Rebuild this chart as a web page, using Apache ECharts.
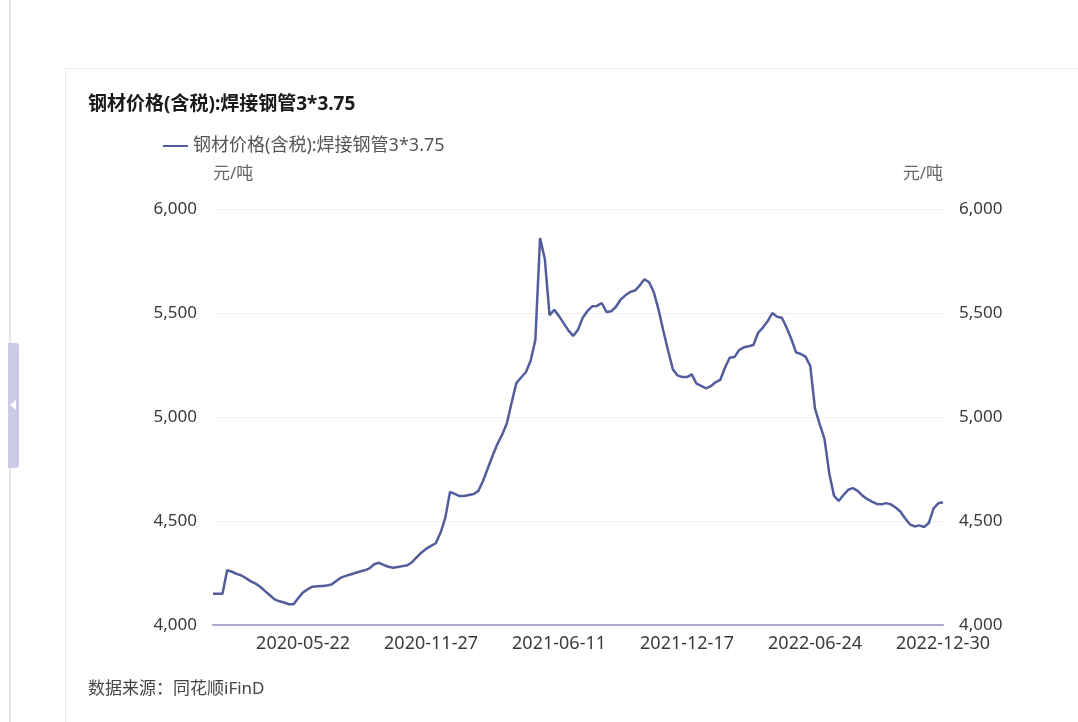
<!DOCTYPE html>
<html>
<head>
<meta charset="utf-8">
<script src="https://cdn.jsdelivr.net/npm/echarts@6/dist/echarts.min.js"></script>
<style>
  body { margin: 0; background: #fff; }
  #edge { position: absolute; left: 9px; top: 0; width: 2px; height: 722px; background: #e6e6ef; }
  #tab { position: absolute; left: 8px; top: 343px; width: 11px; height: 125px; background: #cbcbe6; border-radius: 0 3px 3px 0; }
  #tab:after { content: ''; position: absolute; left: 2px; top: 57px; border-style: solid; border-width: 5px 6px 5px 0; border-color: transparent #fff transparent transparent; }
  #card { position: absolute; left: 65px; top: 68px; width: 1020px; height: 660px; border: 1px solid #ececec; }
  #main { position: absolute; left: 0; top: 0; width: 1078px; height: 722px; }
</style>
</head>
<body>
<div id="edge"></div>
<div id="tab"></div>
<div id="card"></div>
<div id="main"></div>
<script>
// weekly prices, 元/吨 (Spring Festival week 2021-02-12 has no data)
const startDate = '2020-01-10';
const skipDates = ['2021-02-12'];
const labelDates = ['2020-05-22', '2020-11-27', '2021-06-11', '2021-12-17', '2022-06-24', '2022-12-30'];
const yTicks = [4000, 4500, 5000, 5500, 6000];
const seriesName = '钢材价格(含税):焊接钢管3*3.75';
const prices = [
  4150, 4150, 4150, 4264, 4256, 4246, 4238, 4224, 4210, 4199,
  4183, 4163, 4143, 4123, 4114, 4108, 4100, 4100, 4130, 4157,
  4172, 4184, 4186, 4188, 4190, 4195, 4212, 4228, 4236, 4243,
  4250, 4257, 4263, 4272, 4292, 4299, 4289, 4280, 4275, 4279,
  4283, 4287, 4302, 4326, 4349, 4367, 4380, 4393, 4443, 4515,
  4640, 4630, 4620, 4620, 4625, 4630, 4645, 4695, 4755, 4815,
  4870, 4915, 4970, 5070, 5163, 5190, 5215, 5270, 5370, 5860,
  5760, 5490, 5515, 5485, 5450, 5415, 5390, 5420, 5477, 5510,
  5532, 5534, 5548, 5505, 5508, 5530, 5565, 5585, 5601, 5608,
  5632, 5662, 5648, 5600, 5515, 5415, 5320, 5230, 5200, 5192,
  5192, 5205, 5160, 5150, 5138, 5148, 5167, 5178, 5237, 5285,
  5288, 5322, 5335, 5340, 5346, 5405, 5430, 5460, 5500, 5482,
  5477, 5430, 5375, 5311, 5303, 5290, 5245, 5040, 4965, 4895,
  4730, 4622, 4596, 4625, 4650, 4658, 4645, 4622, 4606, 4593,
  4582, 4580, 4586, 4580, 4565, 4546, 4513, 4484, 4474, 4479,
  4471, 4490, 4560, 4585, 4590
];

// build the weekly category list
const dates = [];
const d = new Date(startDate + 'T00:00:00Z');
while (dates.length < prices.length) {
  const s = d.toISOString().slice(0, 10);
  if (skipDates.indexOf(s) < 0) dates.push(s);
  d.setUTCDate(d.getUTCDate() + 7);
}

const font = "'Noto Sans', 'Noto Sans CJK SC', sans-serif";
const myChart = echarts.init(document.getElementById('main'));

const yAxisBase = {
  type: 'value',
  min: yTicks[0],
  max: yTicks[yTicks.length - 1],
  interval: 500,
  name: '元/吨',
  nameGap: 26,
  axisLine: { show: false },
  axisTick: { show: false },
  axisLabel: { color: '#3a3a3a', fontSize: 17, fontFamily: font, margin: 16 }
};

const option = {
  backgroundColor: 'transparent',
  animation: false,
  textStyle: { fontFamily: font },
  title: {
    text: seriesName,
    left: 88,
    top: 95,
    padding: 0,
    textStyle: { fontSize: 19, fontWeight: 'bold', color: '#1a1a1a', fontFamily: font }
  },
  legend: {
    left: 158,
    top: 132,
    icon: 'rect',
    itemWidth: 25,
    itemHeight: 2,
    itemGap: 10,
    textStyle: { fontSize: 18, color: '#555', fontFamily: font },
    data: [seriesName]
  },
  grid: { left: 213, right: 135, top: 209, bottom: 97 },
  xAxis: {
    type: 'category',
    boundaryGap: false,
    data: dates,
    axisLine: { lineStyle: { color: '#a7aacb', width: 2 } },
    axisTick: { show: false },
    axisLabel: {
      color: '#3a3a3a',
      fontSize: 18,
      fontFamily: font,
      margin: 10,
      interval: (idx, val) => labelDates.indexOf(val) >= 0
    }
  },
  yAxis: [
    Object.assign({}, yAxisBase, {
      position: 'left',
      nameTextStyle: { color: '#666', fontSize: 17, fontFamily: font, align: 'left' },
      splitLine: { lineStyle: { color: '#f0f0f0' } }
    }),
    Object.assign({}, yAxisBase, {
      position: 'right',
      nameTextStyle: { color: '#666', fontSize: 17, fontFamily: font, align: 'right' },
      splitLine: { show: false }
    })
  ],
  graphic: [
    {
      type: 'text',
      left: 88,
      top: 681,
      style: { text: '数据来源：同花顺iFinD', fill: '#444', fontSize: 17, fontFamily: font }
    }
  ],
  series: [
    {
      name: seriesName,
      type: 'line',
      yAxisIndex: 0,
      data: prices,
      symbol: 'none',
      lineStyle: { color: '#525d9c', width: 2.5 },
      itemStyle: { color: '#525d9c' }
    }
  ]
};
myChart.setOption(option);
</script>
</body>
</html>
